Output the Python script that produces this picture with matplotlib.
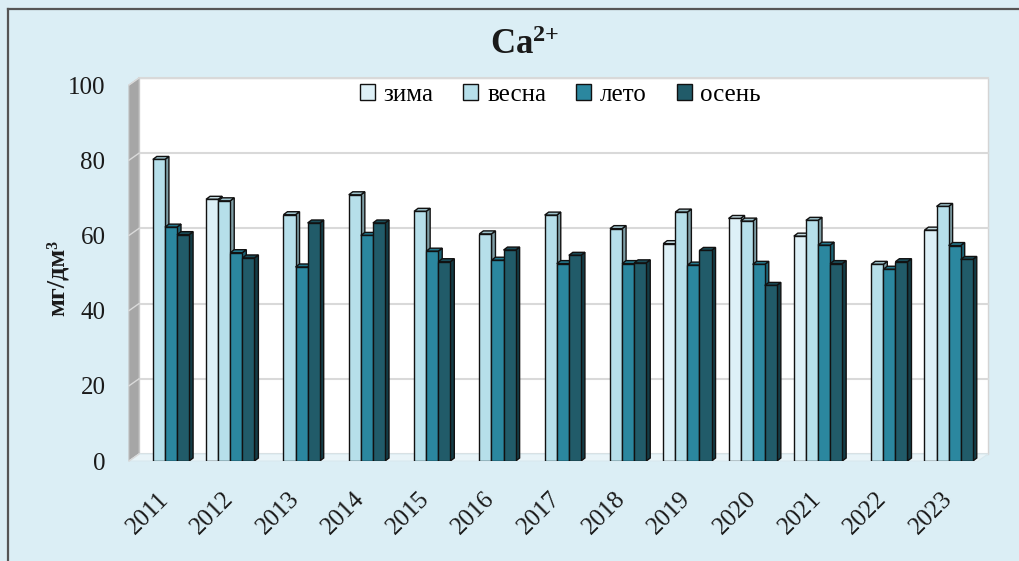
import numpy as np
import matplotlib
matplotlib.use('Agg')
import matplotlib.pyplot as plt
from matplotlib.patches import Polygon, Patch
from matplotlib.transforms import ScaledTranslation

# ---------------- data ----------------
years = ['2011', '2012', '2013', '2014', '2015', '2016', '2017',
         '2018', '2019', '2020', '2021', '2022', '2023']
series_names = ['зима', 'весна', 'лето', 'осень']
nan = np.nan
zima = [nan, 69.6, nan, nan, nan, nan, nan, nan, 57.8, 64.5, 59.8, nan, 61.4]
vesna = [80.2, 69.2, 65.5, 70.8, 66.4, 60.4, 65.4, 61.8, 66.2, 63.8, 64.0, 52.3, 67.7]
leto = [62.2, 55.4, 51.6, 60.0, 55.8, 53.4, 52.5, 52.5, 52.1, 52.3, 57.4, 51.0, 57.3]
osen = [60.2, 54.0, 63.3, 63.3, 53.0, 56.1, 54.7, 52.7, 56.0, 46.7, 52.5, 53.0, 53.6]
y_ticks = [0, 20, 40, 60, 80, 100]

# ---------------- style ----------------
front_colors = ['#ddf0f7', '#b6dfea', '#2b879f', '#215b69']
top_colors = ['#c3d9df', '#9dc2cb', '#24788d', '#1a4c58']
side_colors = ['#9fb8be', '#7e9ea6', '#1c6476', '#133c46']
bg = '#dbeef5'
serif = ['Liberation Serif', 'DejaVu Serif']

plt.rcParams['font.family'] = serif
plt.rcParams['mathtext.fontset'] = 'custom'
plt.rcParams['mathtext.rm'] = 'Liberation Serif'
plt.rcParams['mathtext.bf'] = 'Liberation Serif:bold'

W, H = 1020, 561
fig = plt.figure(figsize=(W / 100, H / 100), dpi=100, facecolor=bg)

# axes = front plane of the 3D box
ax_l, ax_r, ax_t, ax_b = 129, 978, 85, 461
ax = fig.add_axes([ax_l / W, 1 - ax_b / H, (ax_r - ax_l) / W, (ax_b - ax_t) / H])
ax.set_xlim(-0.5, len(years) - 0.5)
ax.set_ylim(0, 100)
ax.patch.set_visible(False)
for s in ax.spines.values():
    s.set_visible(False)

ax_w_px = ax_r - ax_l
ax_h_px = ax_b - ax_t

# back wall offset
wall_dx, wall_dy = 10, 7
off = ScaledTranslation(wall_dx / 100, wall_dy / 100, fig.dpi_scale_trans)
ox, oy = wall_dx / ax_w_px, wall_dy / ax_h_px

# back wall (white)
ax.add_patch(plt.Rectangle((0, 0), 1, 1, transform=ax.transAxes + off,
                           facecolor='white', edgecolor='#d4d4d4', lw=1,
                           zorder=0, clip_on=False))
# gridlines on the back wall
for yv in y_ticks:
    ax.plot([0, 1], [yv, yv], transform=ax.get_yaxis_transform() + off,
            color='#d9d9d9', lw=1.5, zorder=0.5, clip_on=False)
# left side wall
ax.add_patch(Polygon([(0, 0), (0, 1), (ox, 1 + oy), (ox, oy)], closed=True,
                     transform=ax.transAxes, facecolor='#a6a6a6',
                     edgecolor='#bdbdbd', lw=0.8, zorder=0.6, clip_on=False))
for yv in y_ticks:
    ax.plot([0, ox], [yv / 100, yv / 100 + oy], transform=ax.transAxes,
            color='#dadada', lw=1, zorder=0.7, clip_on=False)
# floor
ax.add_patch(Polygon([(0, 0), (1, 0), (1 + ox, oy), (ox, oy)], closed=True,
                     transform=ax.transAxes, facecolor='#e9f4f8',
                     edgecolor='#d8e8ee', lw=0.8, zorder=0.6, clip_on=False))

# ---------------- bars ----------------
bw = 0.185
shift = 0.05
bx = 4 / (ax_w_px / len(years))
by = 3 / (ax_h_px / 100)
x = np.arange(len(years))
all_series = [zima, vesna, leto, osen]
for k, vals in enumerate(all_series):
    vals = np.asarray(vals, dtype=float)
    mask = np.isfinite(vals)
    xs = x[mask] + shift + (k - 2) * bw
    bars = ax.bar(xs, vals[mask], width=bw, align='edge', color=front_colors[k],
                  edgecolor='#111111', linewidth=1.0)
    for rect, i in zip(bars, x[mask]):
        z = 3 + 0.01 * (i * 4 + k)
        rect.set_zorder(z + 0.003)
        x0 = rect.get_x()
        v = rect.get_height()
        x1 = x0 + bw
        top = Polygon([(x0, v), (x1, v), (x1 + bx, v + by), (x0 + bx, v + by)],
                      closed=True, facecolor=top_colors[k], edgecolor='#111111',
                      lw=1.0, zorder=z + 0.002)
        side = Polygon([(x1, 0), (x1, v), (x1 + bx, v + by), (x1 + bx, by)],
                       closed=True, facecolor=side_colors[k], edgecolor='#111111',
                       lw=1.0, zorder=z + 0.001)
        ax.add_patch(side)
        ax.add_patch(top)

# ---------------- axes text ----------------
ax.set_yticks(y_ticks)
ax.set_yticklabels([str(t) for t in y_ticks], fontsize=18, color='#1a1a1a')
ax.tick_params(axis='y', length=0, pad=17)
ax.set_xticks(x + shift)
ax.set_xticklabels(years, fontsize=18, color='#1a1a1a', rotation=45,
                   ha='right', va='center', rotation_mode='anchor')
ax.tick_params(axis='x', length=0, pad=25)

handles = [Patch(facecolor=c, edgecolor='#111111', lw=1) for c in front_colors]
ax.legend(handles, series_names, loc='center', bbox_to_anchor=(0.508, 0.973),
          ncol=4, frameon=False, fontsize=18, handlelength=0.6,
          handleheight=0.6, handletextpad=0.35, columnspacing=1.2,
          borderaxespad=0)

fig.text(525 / W, 1 - 45 / H, r'$\mathbf{Ca^{2{+}}}$', ha='center', va='center',
         fontsize=25, color='#1a1a1a')
fig.text(57 / W, 1 - 278 / H, 'мг/дм³', rotation=90, ha='center', va='center',
         fontsize=19, fontweight='bold', color='#1a1a1a')

# frame lines (top and left)
fig.add_artist(plt.Line2D([8 / W, 1], [1 - 9 / H, 1 - 9 / H],
                          transform=fig.transFigure, color='#555555', lw=1.6))
fig.add_artist(plt.Line2D([8 / W, 8 / W], [0, 1 - 9 / H],
                          transform=fig.transFigure, color='#555555', lw=1.6))

fig.savefig('out.png', dpi=100, facecolor=bg)
